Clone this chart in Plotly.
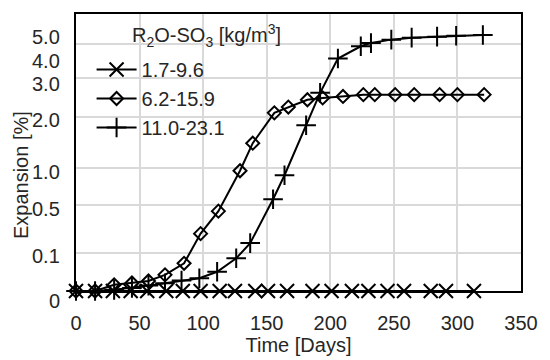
import numpy as np
import plotly.graph_objects as go

# ---------------- data ----------------
series_names = ["1.7-9.6", "6.2-15.9", "11.0-23.1"]

days_a = [0, 15, 29, 43, 56, 71, 84, 98, 113, 125, 141, 151, 166, 186, 201, 217, 230, 245, 258, 279, 291, 313]
exp_a = [0.0] * len(days_a)

days_b = [0, 15, 30, 44, 57, 70, 85, 98, 112, 129, 139, 156, 167, 182, 194, 210, 226, 235, 251, 266, 286, 300, 321]
exp_b = [0.0, 0.0, 0.016, 0.021, 0.026, 0.042, 0.072, 0.26, 0.45, 0.96, 1.48, 2.1, 2.26, 2.46, 2.51, 2.55,
         2.6, 2.6, 2.6, 2.6, 2.6, 2.6, 2.6]

days_c = [0, 15, 30, 44, 57, 70, 83, 97, 111, 126, 137, 155, 164, 181, 192, 206, 224, 232, 248, 264, 284, 299, 320]
exp_c = [0.0, 0.0, 0.003, 0.008, 0.014, 0.02, 0.027, 0.033, 0.05, 0.085, 0.18, 0.58, 0.9, 1.83, 2.65, 3.95,
         4.45, 4.58, 4.72, 4.8, 4.84, 4.88, 4.91]

y_tick_labels = ["0", "0.1", "0.5", "1.0", "2.0", "3.0", "4.0", "5.0"]
y_tick_values = [0, 0.1, 0.5, 1.0, 2.0, 3.0, 4.0, 5.0]
x_ticks = [0, 50, 100, 150, 200, 250, 300, 350]
legend_title = "R<sub>2</sub>O-SO<sub>3</sub> [kg/m<sup>3</sup>]"

# ---------------- custom (non-linear) y scale ----------------
# axis units of the breakpoints for the tick values (plot height = 281 units)
PLOT_H = 281
scale_units = [0, 39, 87, 125, 177, 214, 237, 262]
grid_units = [39, 87, 125, 177, 216, 251]
label_offset = [-10, -4, -4, -4, -4, -4, -4, -4]


def to_axis(v):
    return np.interp(np.asarray(v, dtype=float), y_tick_values, scale_units)


FONT = "Liberation Sans, Arial, sans-serif"
TXT = "#262626"
FS = 20

fig = go.Figure()
styles = [
    dict(symbol="x-thin", size=14),
    dict(symbol="diamond-open", size=10),
    dict(symbol="cross-thin", size=14),
]
for name, d, e, st in zip(series_names, [days_a, days_b, days_c], [exp_a, exp_b, exp_c], styles):
    fig.add_trace(go.Scatter(
        x=d, y=to_axis(e), name=name, mode="lines+markers",
        line=dict(color="black", width=2),
        marker=dict(symbol=st["symbol"], size=st["size"], color="black",
                    line=dict(color="black", width=2)),
        cliponaxis=False,
    ))

annotations = []
for lab, v, off in zip(y_tick_labels, y_tick_values, label_offset):
    annotations.append(dict(
        x=-0.031, xref="paper", y=(float(to_axis(v)) + off) / PLOT_H, yref="paper",
        text=lab, showarrow=False, xanchor="right", yanchor="middle",
        font=dict(family=FONT, size=FS, color=TXT),
    ))
annotations.append(dict(
    x=-0.125, xref="paper", y=0.42, yref="paper", text="Expansion [%]",
    textangle=-90, showarrow=False, xanchor="center", yanchor="middle",
    font=dict(family=FONT, size=FS, color=TXT),
))
annotations.append(dict(
    x=0.121, xref="paper", y=0.922, yref="paper", text=legend_title,
    showarrow=False, xanchor="left", yanchor="middle",
    font=dict(family=FONT, size=FS, color=TXT),
))

fig.update_layout(
    width=550, height=360,
    margin=dict(l=76, r=18, t=12, b=67),
    paper_bgcolor="white", plot_bgcolor="white",
    font=dict(family=FONT, size=FS, color=TXT),
    showlegend=True,
    legend=dict(
        x=0.035, y=0.87, xanchor="left", yanchor="top",
        bgcolor="rgba(0,0,0,0)",
        font=dict(family=FONT, size=FS, color=TXT),
        itemwidth=40,
    ),
    xaxis=dict(
        range=[0, 350], tickvals=x_ticks, ticktext=[str(t) for t in x_ticks],
        showgrid=True, gridcolor="#d9d9d9", gridwidth=2,
        showline=True, linecolor="black", linewidth=2, mirror=True,
        ticks="", ticklabelstandoff=13, zeroline=False,
        title=dict(text="Time [Days]", standoff=0, font=dict(family=FONT, size=FS, color=TXT)),
        tickfont=dict(family=FONT, size=FS, color=TXT),
    ),
    yaxis=dict(
        range=[0, PLOT_H], tickvals=grid_units, showticklabels=False,
        showgrid=True, gridcolor="#d9d9d9", gridwidth=2,
        showline=True, linecolor="black", linewidth=2, mirror=True,
        ticks="", zeroline=False,
    ),
    annotations=annotations,
)

fig.write_html("out.html")
